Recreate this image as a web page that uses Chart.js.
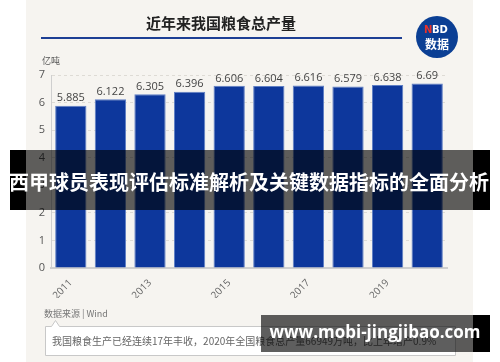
<!DOCTYPE html>
<html>
<head>
<meta charset="utf-8">
<script src="https://cdn.jsdelivr.net/npm/chart.js@4"></script>
<style>
  html, body { margin: 0; padding: 0; background: #fff; }
  #wrap { width: 500px; height: 362px; }
</style>
</head>
<body>
<div id="wrap"><canvas id="grainChart" width="500" height="362"></canvas></div>
<script>
(function() {

    // chart data
    var years = ["2011", "2012", "2013", "2014", "2015", "2016", "2017", "2018", "2019", "2020"];
    var output = [5.885, 6.122, 6.305, 6.396, 6.606, 6.604, 6.616, 6.579, 6.638, 6.69];
    var outputLabels = ["5.885", "6.122", "6.305", "6.396", "6.606", "6.604", "6.616", "6.579", "6.638", "6.69"];
    var yTicks = [0, 1, 2, 3, 4, 5, 6, 7];

    var titleText = "近年来我国粮食总产量";
    var unitText = "亿吨";
    var sourceText = "数据来源 | Wind";
    var noteText = "我国粮食生产已经连续17年丰收，2020年全国粮食总产量66949万吨，比上年增产0.9%";
    var bannerText = "西甲球员表现评估标准解析及关键数据指标的全面分析";
    var siteText = "www.mobi-jingjibao.com";

    var cjk = '"Noto Sans CJK SC", "Noto Sans", sans-serif';

    var backdrop = {
        id: 'backdrop',
        beforeDraw: function(chart) {
            var ctx = chart.ctx;
            ctx.save();
            ctx.fillStyle = '#ffffff';
            ctx.fillRect(0, 0, 500, 362);
            ctx.fillStyle = '#f6f4f0';
            ctx.fillRect(26, 0, 447, 362);

            // title + rule
            ctx.fillStyle = '#222';
            ctx.font = 'bold 15px ' + cjk;
            ctx.textAlign = 'center';
            ctx.textBaseline = 'middle';
            ctx.fillText(titleText, 221, 23);
            ctx.fillStyle = '#1d3f94';
            ctx.fillRect(41, 37, 361, 2);

            // logo
            ctx.beginPath();
            ctx.arc(437, 37, 21, 0, Math.PI * 2);
            ctx.fillStyle = '#0b3f94';
            ctx.fill();
            ctx.font = 'bold 10px "DejaVu Sans", sans-serif';
            ctx.textAlign = 'left';
            ctx.fillStyle = '#e8322b';
            ctx.fillText('N', 424, 30);
            ctx.fillStyle = '#fff';
            ctx.fillText('BD', 432, 30);
            ctx.font = 'bold 12px ' + cjk;
            ctx.textAlign = 'center';
            ctx.fillText('数据', 437, 44);

            // unit
            ctx.fillStyle = '#555';
            ctx.font = '9px ' + cjk;
            ctx.textAlign = 'left';
            ctx.fillText(unitText, 42, 61);

            // source + note box
            ctx.fillStyle = '#777';
            ctx.fillText(sourceText, 44, 314);
            ctx.fillStyle = '#fff';
            ctx.strokeStyle = '#c8c8c8';
            ctx.lineWidth = 1;
            ctx.beginPath();
            ctx.moveTo(45.5, 326.5);
            ctx.lineTo(51.5, 326.5);
            ctx.lineTo(55.5, 320.5);
            ctx.lineTo(59.5, 326.5);
            ctx.lineTo(455.5, 326.5);
            ctx.lineTo(455.5, 355.5);
            ctx.lineTo(45.5, 355.5);
            ctx.closePath();
            ctx.fill();
            ctx.stroke();
            ctx.fillStyle = '#666';
            ctx.font = '10px ' + cjk;
            ctx.fillText(noteText, 52, 341);
            ctx.restore();
        },
        afterDatasetsDraw: function(chart) {
            var ctx = chart.ctx;
            var meta = chart.getDatasetMeta(0);
            ctx.save();
            ctx.fillStyle = '#444';
            ctx.font = '11px "Open Sans", "DejaVu Sans", sans-serif';
            ctx.textAlign = 'center';
            ctx.textBaseline = 'bottom';
            meta.data.forEach(function(bar, i) {
                ctx.fillText(outputLabels[i], bar.x, bar.y - 2);
            });
            ctx.restore();
        },
        afterDraw: function(chart) {
            var ctx = chart.ctx;
            ctx.save();
            // banner overlay
            ctx.fillStyle = '#000';
            ctx.fillRect(10, 150, 16, 60);
            ctx.fillRect(473, 150, 17, 60);
            ctx.fillStyle = 'rgba(0,0,0,0.62)';
            ctx.fillRect(26, 150, 447, 60);
            ctx.fillStyle = '#fff';
            ctx.font = 'bold 20px ' + cjk;
            ctx.textAlign = 'center';
            ctx.textBaseline = 'middle';
            ctx.fillText(bannerText, 249, 182);

            // site watermark
            ctx.fillStyle = '#000';
            ctx.fillRect(473, 315, 17, 37);
            ctx.fillStyle = 'rgba(0,0,0,0.63)';
            ctx.fillRect(261, 315, 212, 37);
            ctx.fillStyle = '#fff';
            ctx.font = 'bold 17px "Open Sans", "DejaVu Sans", sans-serif';
            ctx.fillText(siteText, 375, 333);
            ctx.restore();
        }
    };

    var grainChart = new Chart(document.getElementById('grainChart'), {
        type: 'bar',
        data: {
            labels: years,
            datasets: [{
                label: unitText,
                data: output,
                backgroundColor: '#0d379c',
                borderColor: '#5f7fc4',
                borderWidth: 1,
                barPercentage: 0.79,
                categoryPercentage: 1
            }]
        },
        options: {
            responsive: false,
            animation: false,
            devicePixelRatio: 1,
            layout: { padding: { left: 30, right: 53, top: 75, bottom: 64 } },
            plugins: {
                legend: { display: false },
                tooltip: { enabled: false }
            },
            scales: {
                x: {
                    grid: { display: false },
                    border: { color: '#cfcfcf', width: 2 },
                    ticks: {
                        autoSkip: false,
                        minRotation: 45,
                        maxRotation: 45,
                        padding: 1,
                        color: '#666',
                        font: { size: 10, family: '"Open Sans", "DejaVu Sans", sans-serif' },
                        callback: function(v, i) { return i % 2 === 0 ? years[i] : ''; }
                    },
                    afterFit: function(s) { s.height = 30; }
                },
                y: {
                    min: 0,
                    max: 7,
                    afterBuildTicks: function(s) {
                        s.ticks = yTicks.map(function(v) { return { value: v }; });
                    },
                    grid: { color: '#dedbd5', drawTicks: false },
                    border: { color: '#cfcfcf', width: 1, dash: [3, 3] },
                    ticks: {
                        padding: 6,
                        color: '#555',
                        font: { size: 11, family: '"Open Sans", "DejaVu Sans", sans-serif' }
                    },
                    afterFit: function(s) { s.width = 21; }
                }
            }
        },
        plugins: [backdrop]
    });

})();
</script>
</body>
</html>
